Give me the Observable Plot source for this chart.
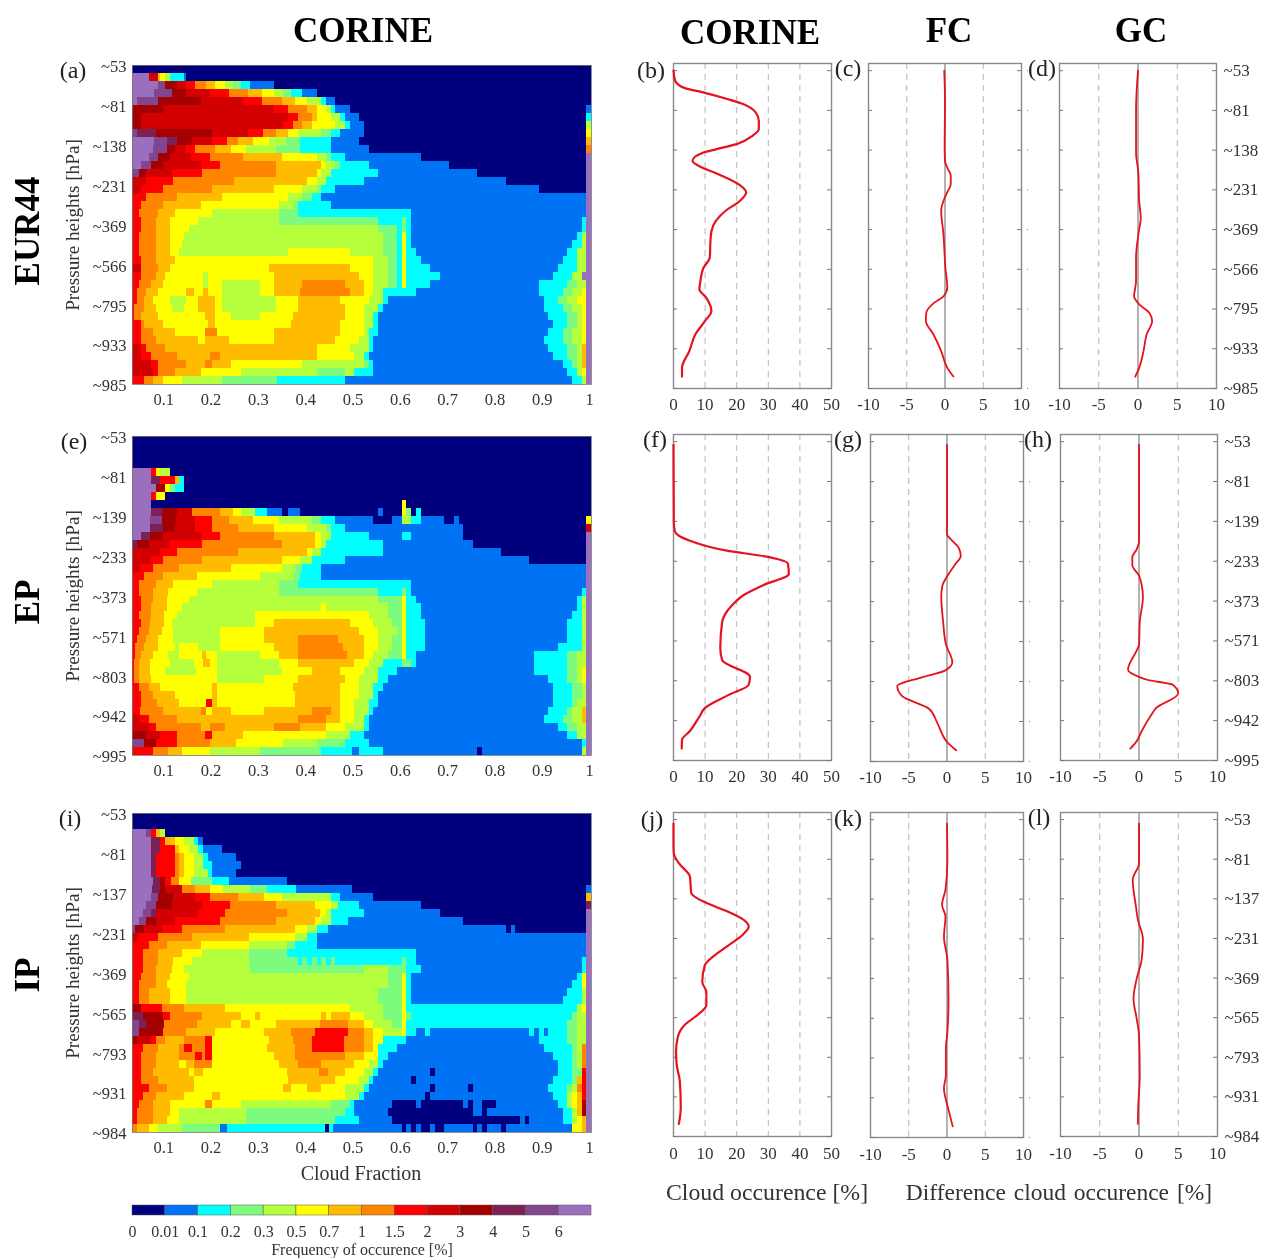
<!DOCTYPE html>
<html><head><meta charset="utf-8">
<script src="https://cdn.jsdelivr.net/npm/d3@7"></script>
<script src="https://cdn.jsdelivr.net/npm/@observablehq/plot@0.6"></script>
<style>
html,body{margin:0;padding:0;background:#fff}
#page{position:relative;width:1261px;height:1258px;overflow:hidden;font-family:"Liberation Serif",serif;color:#333;filter:blur(0.45px)}
.t{position:absolute;white-space:pre;line-height:1}
.p{position:absolute}
.p svg{display:block;max-width:none;background:transparent}
</style></head><body><div id="page"></div>
<script>
// frequency classes of the colour scale
const classKeys = ["0","1","2","3","4","5","6","7","8","9","a","b","c","d"];
const classColors = ["#00007f","#0073f5","#00ffff","#7dfb7d","#b6ff3c","#ffff00","#ffbb00","#ff8400","#ff0000","#d20000","#a40000","#7c2055","#82458f","#9a6fbd"];
const classLabels = ["0","0.01","0.1","0.2","0.3","0.5","0.7","1","1.5","2","3","4","5","6"];
// each row: run of <class><end of run in cloud fraction %>
const panelA = [
"0100",
"d6.5 98.5 69 510 411 214 114.5 0100",
"d8.5 c10 a12.5 914.5 816.3 718.7 620.6 522.7 424.4 326 228 133 0100",
"d7.7 c11.5 a14.5 919.5 823.5 727.5 630.5 533 435 336.5 239 142 0100",
"d4 c8.5 a17.5 926.5 830.5 734.7 637.5 540 443 244 146 0100",
"a9.5 933 836 740 642 544 445 246 149 099 1100",
"a5 936 838 741 642 545 447 248 151 099 2100",
"a5 935 837 739 641 546 448 249 152 099 4100",
"c4 b8 a20 927.5 830.7 733.5 636 538 443 345 247 152 099 5100",
"d7.7 c10.5 b12.5 a15.6 920 823 725.5 628.5 532 435.5 338.5 245 151 099 6100",
"d7.5 c10.5 a12 914.5 816.3 720.5 624 527 433.5 338.5 245 153 099 7100",
"d6.5 c8.5 a11 915.5 819.5 726.5 634.7 542 444 345 248 164 099 d100",
"d5 c7 a9.5 917.5 821.5 733.5 643 544 446 347 253 170 099 d100",
"c4.5 a6 911.5 817.7 733.5 642 543 445 255 176 099 d100",
"96 811.7 724.5 640 542 444 252 182 099 d100",
"95 89.5 720 633 539 442 343 246 189 099 d100",
"86 712.5 622 536 439 341 243 199 d100",
"85 79.5 617.5 534 437 338 245 199 d100",
"84.5 78.5 612 520 434 338 262 199 d100",
"85 78 611 517 434 355 260 361 262 198 299 d100",
"85 78 611 515 455 359 260 361 262 198 299 d100",
"84.5 78 611 514 456 359 260 561 262 197 298 499 d100",
"84.5 78 611 513.5 456 359 260 561 262 196 298 499 d100",
"84.5 78 611 513 436 549 456 359 260 561 263 195 297 499 d100",
"85 78 612 554 457 359 260 561 264 194 297 499 d100",
"95 78.5 611 532 649 554 457 359 260 561 266 193 297 499 d100",
"85 78 610 518 419 533 651 554 457 359 260 561 268 192 296 498 d100",
"84.5 77 69.5 518 419 522 430 533 639 748 652 554 457 359 260 561 266 189 295 397 499 d100",
"84 76 68.5 514.5 616 518 619 522 430 533 638.5 749 652 554 456 263 189 294 396 498 599 d100",
"84 75.5 67.5 511 414.5 517 620.5 522 433.5 538 647 553 456 257 190 293 395 497 599 d100",
"83.5 75.5 68 511.5 414 517 620.5 522 433.5 538 648 552 455 256 190 294 396 498 599 d100",
"83.5 75 68.5 518.5 620.5 524 430 537 648 552 454 255 191 295 397 498 599 d100",
"85 75.5 69.5 519 620.5 536.5 647 552 454 255 192 295 397 498 599 d100",
"85 77.5 612 518.5 721 533 647 552 453 255 191 294 396 498 599 d100",
"85 78 617 518.5 623.5 533 646 551 453 254 190 294 396 498 599 d100",
"95 86 710 642 549 453 254 191 295 397 498 699 d100",
"95 87 712.5 619.5 721.5 642 550 452 253 192 295 397 498 699 d100",
"97 88.5 714.5 618.5 720 624 539 452 353 254 194 296 397 498 699 d100",
"97.5 88.5 712 617.5 526 442 348 450 254 195 297 498 599 d100",
"85.5 77.5 69.5 513.5 422 333.7 248 196 298 499 d100"
];
const panelE = [
"0100","0100","0100","0100",
"d7 88 59 411 0100",
"d7 b9 812 613 214 0100",
"d8 a10 511 312 214 0100",
"d7 88 510 0100",
"d7 060 561 0100",
"d7 b9.3 a12.5 915.6 721.6 624.4 526 429 231.6 134.7 036 138.5 055 156 060 561 362 063 264 0100",
"d6.7 c9.3 a12.3 916.3 820 723.6 628.6 534 441 343 246 154 058 160 462 264 169 071 172 099 5100",
"d6.7 b9.6 a12 916.3 820 725.5 633 540 444 345 248 173 099 9100",
"d5 b6.7 a9.6 917.5 821.5 733 641.7 543 445 253 160 262 173 099 d100",
"b4 a6.5 911 817.7 734.7 641.7 543 444 256 175 099 d100",
"99 812.5 725.5 640 541 443 256 181 099 d100",
"97 89.5 717.7 634.7 538.5 441 248 187 099 d100",
"94.7 87.5 713 624 534.7 437.5 339 243 199 d100",
"85.5 79.5 616.7 530 437 338.5 243 199 d100",
"84.5 78 611.7 520 434 338 262 199 d100",
"84.5 77.5 610.7 516.7 434 355 260 361 262 198 299 d100",
"85 77.5 610.3 515 455 360 561 263 197 298 499 d100",
"85 77 610.3 513.5 443 544 457 360 561 264 197 298 499 d100",
"84.5 77 69.7 512.5 429 553 457 360 561 264 196 298 499 d100",
"85 76.7 69.7 511.5 429 533 649 554 458 360 561 265 195 298 499 d100",
"84.5 76.5 69.3 511.7 421.6 531 651 555 459 360 561 265 195 298 499 d100",
"84 76 68.5 511.7 421.6 531 638 746.6 652 555 458 360 561 265 195 298 499 d100",
"83.7 75.5 68.5 512 413 517 421.6 533 638 747.6 652 555 458 360 561 265 193 298 499 d100",
"83.7 75 67.5 510.7 413 517.7 618.7 521 430 534 638 748.4 652 554 457 360 561 263 188 295 397 499 d100",
"83.5 74.5 66.8 511 416 518 619.5 521 434 538 650 553 456 260 362 263 188 295 397 499 d100",
"83.5 74.5 66.8 510 416.5 521 434.7 541 647 552 455 259 188 295 397 498 599 d100",
"83.5 74.5 67 512 521 431 538 648 551 455 257 191 295 397 498 599 d100",
"84.5 76.5 69 520 621 537 647 551 454 256 192 296 398 499 d100",
"85 77.5 612 520 621 537.5 647 551 454 255 192 296 398 499 d100",
"85 78.3 613 518.7 820 621 537.5 647 550 453 255 192 296 397 499 d100",
"84.7 79.5 617.5 718.7 520 624 531 641 745 647 550 453 254 191 295 396 498 699 d100",
"94.7 86.5 712.5 638 744 647 550 452 253 190 294 396 498 699 d100",
"96.5 88 717.5 619.5 722.7 633 738.5 644 548 452 253 193 295 397 499 d100",
"a6 99 812.5 718.5 820 626.5 544 449 252 195 297 499 d100",
"c5.5 a8 812.5 719.5 625 535 442 348 253 198 299 d100",
"87.5 710.7 613.5 519.5 430 343 249.5 151 256 176 077 198 499 d100"
];
const panelI = [
"0100","0100",
"d6 c7 88 69 410 0100",
"d7 b9 810 612 514 416 217 118 0100",
"d7 b9 812 613 515 417 218 122 0100",
"d7 b8 812 713 614 516 418 219 125 0100",
"d7 b8 812 713 614 516 418 220 126 0100",
"d7 b8 812 713 614 516 419 220 125 0100",
"d7.5 b9 a10 811.3 713 515.5 320 223.4 135.7 0100",
"d7.3 b9 a10 913.5 716.3 619.5 522.3 428 331.5 237.7 149.4 099 1100",
"d7 c8.5 a11.7 916.3 819.5 725.5 630.8 534.7 445 247 154 099 6100",
"d6 c8 a11.5 917.7 823.7 733.5 641.7 545 446.5 251 164 099 b100",
"d5.4 c7 b8 916.7 822.7 735.7 642.7 544 445 252 168 099 d100",
"d4.5 c6 a8 912 821.5 733.5 641.7 543 445 248.7 173 099 d100",
"c3.7 a5.5 99.3 813.5 722.7 637.5 540 442 244.5 182 083 184 099 d100",
"94.5 88.5 715.6 627.7 537.5 440 242 199 d100",
"86.5 710.3 617.5 527.7 435.7 337.5 242 199 d100",
"85.4 78.5 613.5 517.7 427.7 335.7 263 199 d100",
"85.4 78.5 611.7 515.6 427.7 338 239 340 241 342 243 344 245 346 260 361 263 198 299 d100",
"85.4 78 611.5 514 428 352 457 361 561 264 198 299 d100",
"85 78 611 515 457 360 561 262 197 298 599 d100",
"84.5 78 610.5 514.5 457 360 561 262 196 298 599 d100",
"84.5 76.5 611 514.5 455 360 561 262 195 298 499 d100",
"84.5 76.5 611 514.5 455 360 561 262 194 298 499 d100",
"a5 89.3 714 622.7 549 456 360 561 297 498 599 d100",
"b5.4 a9.5 811 717.7 626 529 630 543 644 545 649 552 456 360 561 362 296 397 499 d100",
"c4.5 b6 a9.7 716.7 624 526 628 533.5 642.7 748.7 652 554 458 360 561 295 397 499 d100",
"c4.5 a9.5 714.5 620.5 531 636.7 741.7 848.7 752 654 556 460 561 263 165 266 187 288 189 290 191 295 397 499 d100",
"a4 97 88 710 614 718.5 820 532 637 741 847.7 752 654 556 261 189 295 397 499 d100",
"85.4 78.5 613 714 815.7 718.5 820 531.5 637.5 741 847.7 752 654 555 259 190 296 397 498 799 d100",
"85 78 613 716.3 817.7 718.5 820 533 637.5 748 652 555 257 192 296 397 498 799 d100",
"85 78 613 514.5 616 720 534 638 743 650 553 455 256 193 296 397 498 799 d100",
"85 77.5 615 516 618 535.7 642.5 744.5 648 552 454 255 166 067 193 296 398 899 d100",
"85 78.5 616 536 646 551 453 254 162 063 192 296 397 698 899 d100",
"86.5 710.5 616 535 636.5 540 643 548 452 253 166 067 174 075 191 295 396 497 798 899 d100",
"85.4 78 614 520 621.7 548 451 252 165 066 192 295 496 597 698 899 d100",
"84.5 77.5 611 518.5 720 526 445 349 250 158 063 164 073 174 075 177 080 193 295 496 597 698 a99 d100",
"84 77.5 611 513 427 348 250 157 075 177 078 194 296 497 597 698 a99 d100",
"84 77.5 610.5 513 427 346 251 158 085 186 087 194 296 497 598 699 d100",
"74 66.5 58.5 413.5 321.5 123 243.7 044.7 245.5 160 061 162 063 164 066 167 069 175 076 177 078 181 082 196 598 699 d100"
];
const labelsA = ["~53","~81","~138","~231","~369","~566","~795","~933","~985"];
const labelsE = ["~53","~81","~139","~233","~373","~571","~803","~942","~995"];
const labelsI = ["~53","~81","~137","~231","~369","~565","~793","~931","~984"];
const fractionTicks = [10,20,30,40,50,60,70,80,90,100];
// profiles: rows and percent values
const rowsB = [0,1.26,2.2,2.7,3.6,4.2,5.25,6.3,7.35,8.2,9.25,9.9,10.3,11.35,12.2,13,14.3,15.3,16.4,17.6,18.9,20.2,21.4,23.5,24.8,26.5,27.5,28.6,30.25,31.5,33.2,35.3,37.4,38.5];
const valsB = [0,0.5,3.6,9,17.3,22,26,27,27,25,20,13.4,9.5,6,9,14,20.6,23,21,16.6,13.4,12,11.7,11.5,9.5,8.5,8.2,10.4,12,10,6.9,5,2.7,2.7];
const rowsC = [0,3.8,9.7,11.35,12.2,13.2,14.3,15.3,16.4,17.6,20.6,24.8,27.3,28.4,29.2,30.5,31.5,33.2,35.3,37.4,38.5];
const valsC = [-0.1,0,-0.05,0,0.3,0.75,0.75,0.3,-0.2,-0.5,-0.2,0.05,0.3,-0.2,-1.4,-2.45,-2.5,-1.5,-0.5,0.3,1.1];
const rowsD = [0,4.9,10.3,12.9,16.4,18.5,20.6,23.5,26.5,28.4,29.4,30.5,31.5,33.2,35.3,37.4,38.5];
const valsD = [0,-0.25,-0.25,0.05,0.15,0.35,0.05,-0.25,-0.25,-0.5,0.15,1.45,1.8,1.1,0.7,0.15,-0.35];
const rowsF = [0.4,10.15,11.2,11.8,12.4,13.05,13.7,14.4,15.3,16.6,18,19.3,20.5,21.6,22.6,25.9,27.4,29.5,30.5,31.8,33.4,34.5,36.3,37.4,38.5];
const valsF = [0,0.1,0.4,1.7,5,10,17.3,29,36.2,36.5,28.4,22,18.6,16.4,15.4,14.8,15.4,24.2,23.8,17.3,10,8.2,5.2,2.7,2.6];
const rowsG = [0.4,11.6,12.2,13.3,14.3,15.3,16.8,18,19.3,22.6,25.5,26.8,27.6,28.6,29.5,30.6,31.8,33.4,35.1,37.6,38.6];
const valsG = [0,0,0.5,1.55,1.8,1.1,0.05,-0.6,-0.75,-0.5,-0.1,0.5,0.7,-0.2,-3.4,-6.5,-5.9,-2.35,-1.3,0.05,1.2];
const rowsH = [0.4,12.6,13.5,14.5,15.5,16.8,18,19.5,22.6,25.5,26.4,28.6,29.5,29.9,30.5,31.6,33.4,34.3,36.3,37.6,38.5];
const valsH = [0,0,-0.3,-0.85,-0.85,0,0.35,0.5,0.1,0,-0.4,-1.4,0,1.15,4.3,5,2.2,1.55,0.35,-0.3,-1.1];
const rowsJ = [0.5,3,4.25,5.5,7.2,9.25,10.1,10.9,11.75,12.6,13.5,14.5,15.9,17.2,18.4,20.5,21.75,23.4,24.7,25.9,27.4,29.25,30.9,33,36.3,38.4];
const valsJ = [0,0,0.1,1.7,5.2,5.6,8.2,12.8,18,22,23.8,22,17.3,12.8,9.9,9.1,10.4,10.4,7.5,3.6,1.4,0.8,1,2,2.3,1.7];
const rowsK = [0.5,5.1,8.8,10.7,12.2,14.7,17.6,22.6,26.75,28.8,32.2,33.8,36.3,38.6];
const valsK = [0,0.05,-0.2,-0.65,-0.2,-0.4,0.05,0.2,0.05,-0.15,-0.15,-0.4,0.15,0.75];
const rowsL = [0.5,5.5,7.6,10.9,12.6,15.1,17.6,20.1,22.6,25.1,27.2,32.2,36.3,38.4];
const valsL = [0,0,-0.8,-0.4,-0.15,0.5,0.35,-0.3,-0.7,-0.3,0,0.1,-0.1,-0.15];

const page = document.getElementById("page");
const serif = '"Liberation Serif", serif';
function place(svg,left,top){const d=document.createElement("div");d.className="p";d.style.left=left+"px";d.style.top=top+"px";d.appendChild(svg);page.appendChild(d);}
function label(txt,x,y,size,opts={}){const d=document.createElement("div");d.className="t";d.textContent=txt;
  d.style.fontSize=size+"px";d.style.color=opts.color||"#333";if(opts.bold)d.style.fontWeight="bold";
  d.style.left=x+"px";d.style.top=y+"px";
  let tr="translate(-50%,-50%)";if(opts.rot)tr+=" rotate(-90deg)";d.style.transform=tr;
  if(opts.spacing)d.style.wordSpacing=opts.spacing;page.appendChild(d);}

function runs(rows){const out=[];rows.forEach((s,r)=>{let prev=3;s.split(" ").forEach(tok=>{const c=tok[0],e=+tok.slice(1);
  if(e>prev){out.push({r,c,b0:prev,b1:e});prev=e;}});});return out;}
const binShift=0.4;
function heat(rows,labels,L,T,W,H){
  const mL=50,mR=8,mT=14,mB=32;
  const svg=Plot.plot({width:W+mL+mR,height:H+mT+mB,marginLeft:mL,marginRight:mR,marginTop:mT,marginBottom:mB,
    style:{fontFamily:serif,fontSize:"16.5px",color:"#333",background:"transparent"},
    x:{domain:[3+binShift,100+binShift],axis:null},y:{domain:[40,0],axis:null},
    color:{type:"ordinal",domain:classKeys,range:classColors},
    marks:[
      Plot.rect(runs(rows),{x1:d=>d.b0+binShift,x2:d=>d.b1+binShift,y1:"r",y2:d=>d.r+1,fill:"c",shapeRendering:"crispEdges"}),
      Plot.frame({stroke:"#777",strokeWidth:0.8}),
      Plot.axisX({ticks:fractionTicks,tickFormat:d=>d===100?"1":String(d/100),tickSize:0,tickPadding:9,label:null,fontSize:16.5}),
      Plot.axisY({ticks:d3.range(0,41,5),tickFormat:d=>labels[d/5],tickSize:0,tickPadding:6,label:null,fontSize:16.5,dy:1.5})
    ]});
  place(svg,L-mL,T-mT);
}
function prof(rows,vals,dom,L,T,W,H,opts={}){
  const mL=16,mR=opts.labels?46:16,mT=2,mB=32;
  const data=rows.map((r,i)=>({r,v:vals[i]}));
  const diff=dom[0]<0;
  const ticksV=diff?[-10,-5,0,5,10]:[0,10,20,30,40,50];
  const grid=diff?[-5,5]:[10,20,30,40];
  const rowTicks=d3.range(0,41,5);
  const marks=[
    Plot.ruleX(grid,{stroke:"#b5b5b5",strokeDasharray:"6,5",strokeWidth:1}),
    diff?Plot.ruleX([0],{stroke:"#666",strokeWidth:1}):null,
    Plot.frame({stroke:"#8a8a8a",strokeWidth:1.4}),
    Plot.tickY(rowTicks,{y:d=>d,insetRight:W-4,stroke:"#777"}),
    Plot.tickY(rowTicks,{y:d=>d,insetLeft:W-4,stroke:"#777"}),
    opts.specks?Plot.tickY(rowTicks,{y:d=>d,insetLeft:W+6,insetRight:-7,stroke:"#777"}):null,
    Plot.axisX({ticks:ticksV,tickSize:0,tickPadding:opts.pad||9,label:null,fontSize:17,tickFormat:d=>String(d)}),
    Plot.line(data,{x:"v",y:"r",stroke:"#e5121f",strokeWidth:opts.sw||2.2,curve:"monotone-y"})
  ];
  if(opts.labels)marks.push(Plot.axisY({anchor:"right",ticks:rowTicks,tickFormat:d=>opts.labels[d/5],tickSize:0,tickPadding:7,label:null,fontSize:17}));
  const svg=Plot.plot({width:W+mL+mR,height:H+mT+mB,marginLeft:mL,marginRight:mR,marginTop:mT,marginBottom:mB,
    style:{fontFamily:serif,fontSize:"17px",color:"#333",background:"transparent"},
    x:{domain:dom,axis:null},y:{domain:[40,-0.9],axis:null},marks});
  place(svg,L-mL,T-mT);
}
const P=[0,50],D=[-10,10];
heat(panelA,labelsA,132,65,459,319);
heat(panelE,labelsE,132,436,459,319);
heat(panelI,labelsI,132,813,459,319);
prof(rowsB,valsB,P,673,63,158,325);
prof(rowsC,valsC,D,868,63,153,325,{specks:true,sw:1.8});
prof(rowsD,valsD,D,1059,63,157,325,{labels:labelsA,sw:1.8});
prof(rowsF,valsF,P,673,434,158,326);
prof(rowsG,valsG,D,870,434,153,327,{specks:true,sw:1.8});
prof(rowsH,valsH,D,1060,434,157,326,{labels:labelsE,sw:1.8});
prof(rowsJ,valsJ,P,673,812,158,324,{pad:10});
prof(rowsK,valsK,D,870,812,153,325,{specks:true,sw:1.8,pad:10});
prof(rowsL,valsL,D,1060,812,157,324,{labels:labelsI,sw:1.8,pad:10});

// colour key
const keyCells=classKeys.map((c,i)=>({c,i}));
place(Plot.plot({width:459+40,height:50,marginLeft:20,marginRight:20,marginTop:2,marginBottom:38,
  style:{fontFamily:serif,fontSize:"16px",color:"#333",background:"transparent"},
  x:{domain:[0,14],axis:null},y:{domain:[0,1],axis:null},
  color:{type:"ordinal",domain:classKeys,range:classColors},
  marks:[Plot.rect(keyCells,{x1:"i",x2:d=>d.i+1,y1:0,y2:1,fill:"c",stroke:"#555",strokeWidth:0.5}),
    Plot.axisX({ticks:d3.range(0,14),tickFormat:d=>classLabels[d],tickSize:0,tickPadding:10,label:null,fontSize:16})
  ]}),112,1203);

// text
label("CORINE",363,30,35,{bold:true,color:"#000"});
label("CORINE",750,32,35,{bold:true,color:"#000"});
label("FC",949,30,35,{bold:true,color:"#000"});
label("GC",1141,30,35,{bold:true,color:"#000"});
label("EUR44",27,231,35,{bold:true,rot:true,color:"#000"});
label("EP",27,602,35,{bold:true,rot:true,color:"#000"});
label("IP",27,975,35,{bold:true,rot:true,color:"#000"});
label("Pressure heights [hPa]",73,225,19.2,{rot:true});
label("Pressure heights [hPa]",73,596,19.2,{rot:true});
label("Pressure heights [hPa]",73,973,19.2,{rot:true});
label("Cloud Fraction",361,1173,20);
label("Cloud occurence [%]",767,1193,23.8);
label("Difference cloud occurence [%]",1059,1193,23.5,{spacing:"2px"});
label("Frequency of occurence [%]",362,1250,16);
[["(a)",73,70],["(e)",74,441],["(i)",70,818],["(b)",651,70],["(c)",848,68],["(d)",1042,68],
 ["(f)",655,439],["(g)",848,439],["(h)",1038,439],["(j)",652,819],["(k)",848,818],["(l)",1039,817]]
 .forEach(([t,x,y])=>label(t,x,y,24,{color:"#222"}));
</script></body></html>
